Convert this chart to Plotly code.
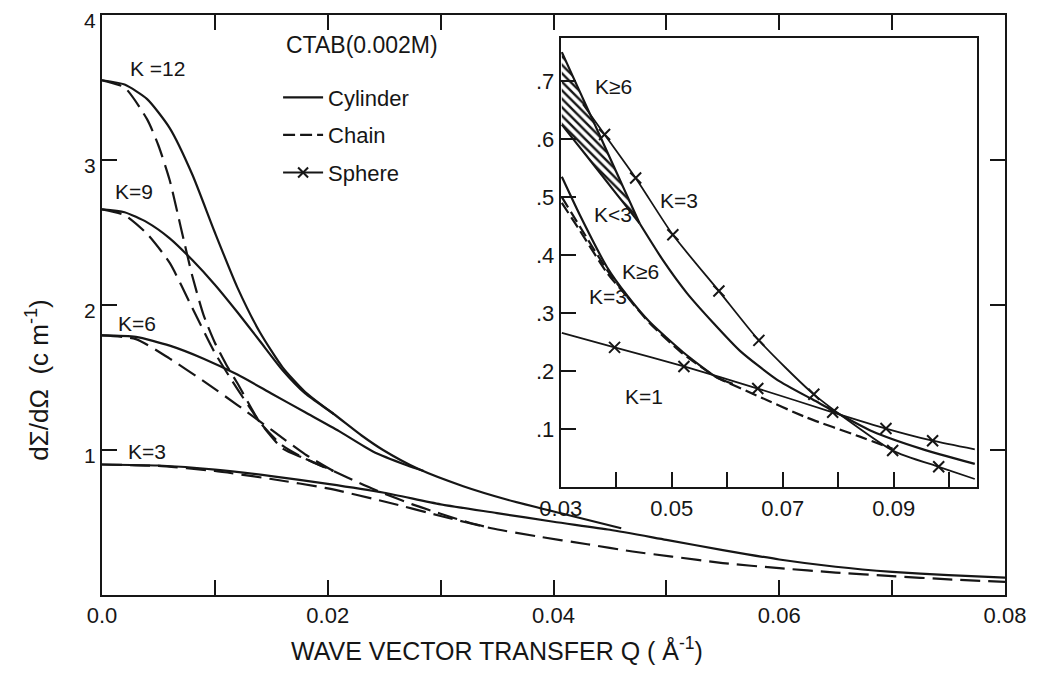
import plotly.graph_objects as go

# ---------------- main panel: dSigma/dOmega vs Q ----------------
# Cylinder model (solid lines)
cyl12_q = [0, .002, .004, .006, .008, .010, .012, .014, .016, .018, .0205]
cyl12_v = [3.55, 3.52, 3.42, 3.22, 2.90, 2.50, 2.12, 1.81, 1.57, 1.40, 1.25]
cyl9_q = [0, .002, .004, .006, .008, .010, .012, .014, .016, .018, .0205, .023, .0249, .028, .032, .036, .0411, .046]
cyl9_v = [2.66, 2.64, 2.57, 2.46, 2.31, 2.14, 1.95, 1.75, 1.55, 1.39, 1.25, 1.10, 1.00, .87, .75, .655, .555, .46]
cyl6_q = [0, .003, .006, .009, .012, .015, .018, .021, .024, .027, .0285]
cyl6_v = [1.79, 1.78, 1.72, 1.63, 1.52, 1.39, 1.26, 1.13, .99, .895, .855]
cyl3_q = [0, .005, .010, .015, .020, .025, .030, .035, .040, .045, .050, .055, .060, .065, .070, .075, .080]
cyl3_v = [.90, .893, .865, .82, .767, .705, .625, .565, .505, .45, .38, .31, .245, .195, .16, .137, .12]
# Chain model (dashed lines)
ch12_q = [0, .002, .004, .005, .006, .007, .008, .009, .010, .011, .012, .014, .016, .018, .0205]
ch12_v = [3.55, 3.50, 3.28, 3.10, 2.86, 2.53, 2.20, 1.93, 1.74, 1.59, 1.46, 1.19, 1.03, .94, .855]
ch9_q = [0, .002, .004, .006, .008, .010, .012, .014, .016, .018, .0205, .023, .025, .0275, .030, .0325, .0345]
ch9_v = [2.66, 2.62, 2.49, 2.29, 1.98, 1.67, 1.42, 1.19, 1.01, .94, .855, .765, .70, .625, .56, .50, .46]
ch6_q = [0, .003, .006, .009, .012, .015, .018, .0205]
ch6_v = [1.79, 1.765, 1.63, 1.475, 1.31, 1.14, .97, .855]
ch3_q = [0, .005, .010, .015, .020, .025, .030, .0345, .0385, .043, .047, .0505, .055, .060, .065, .070, .075, .080]
ch3_v = [.90, .89, .855, .80, .735, .645, .545, .46, .405, .35, .30, .265, .22, .185, .155, .13, .108, .09]

main_xticks = [0, .01, .02, .03, .04, .05, .06, .07, .08]
main_xtext = ["0.0", "", "0.02", "", "0.04", "", "0.06", "", "0.08"]
main_yticks = [1, 2, 3, 4]
main_ytext = ["1", "2", "3", "4"]

main_labels = ["K =12", "K=9", "K=6", "K=3"]
main_label_q = [.0023, .001, .0012, .0021]
main_label_v = [3.63, 2.78, 1.87, 0.99]

# ---------------- inset ----------------
hatch_up_q = [.0302, .033, .036, .039, .0415, .0442]
hatch_up_v = [.75, .691, .628, .565, .512, .455]
hatch_lo_q = [.0302, .033, .036, .039, .0415, .0442]
hatch_lo_v = [.625, .591, .555, .518, .488, .455]
cylK6_q = [.0442, .0485, .0527, .0575, .0623, .069, .0754, .0862, .095, .1046]
cylK6_v = [.455, .39, .335, .283, .235, .185, .151, .096, .066, .040]
sph3_q = [.034, .0379, .0435, .0502, .0585, .0657, .0756, .0898, .0981, .1046]
sph3_v = [.66, .608, .533, .435, .338, .253, .160, .063, .035, .014]
sph3_mark_q = [.0379, .0435, .0502, .0585, .0657, .0756, .0898, .0981]
sph3_mark_v = [.608, .533, .435, .338, .253, .160, .063, .035]
sph1_q = [.0302, .0397, .0522, .0655, .079, .0886, .097, .1046]
sph1_v = [.266, .241, .208, .170, .129, .101, .080, .065]
sph1_mark_q = [.0397, .0522, .0655, .079, .0886, .097]
sph1_mark_v = [.241, .208, .170, .129, .101, .080]
bund_sol_q = [.0302, .0334, .0383, .042, .046, .052, .058, .061]
bund_sol_v = [.535, .47, .38, .33, .285, .233, .19, .178]
bund_da_q = [.0302, .0334, .0383, .042, .046, .052, .058, .0653, .0743, .0839, .0898]
bund_da_v = [.50, .45, .375, .328, .283, .23, .19, .158, .12, .087, .066]
bund_db_q = [.0302, .0334, .0383, .042]
bund_db_v = [.49, .443, .37, .328]

in_xticks = [.03, .04, .05, .06, .07, .08, .09, .10]
in_xtext = ["0.03", "", "0.05", "", "0.07", "", "0.09", ""]
in_yticks = [.1, .2, .3, .4, .5, .6, .7]
in_ytext = [".1", ".2", ".3", ".4", ".5", ".6", ".7"]

in_labels = ["K≥6", "K=3", "K<3", "K≥6", "K=3", "K=1"]
in_label_q = [.0358, .0475, .0356, .0406, .0347, .0412]
in_label_v = [.69, .495, .47, .372, .328, .157]

legend_names = ["Cylinder", "Chain", "Sphere"]

FONT = "Liberation Sans, Arial, sans-serif"
INK = "#161616"
LW = 2.2
DASH = "20px,8px"

fig = go.Figure()


def line(q, v, dash="solid", xa="x", ya="y", width=LW):
    fig.add_trace(go.Scatter(
        x=q, y=v, mode="lines", xaxis=xa, yaxis=ya,
        line=dict(color=INK, width=width, dash=dash, shape="spline", smoothing=0.6),
        showlegend=False, hoverinfo="skip"))


# main curves
for q, v in [(cyl12_q, cyl12_v), (cyl9_q, cyl9_v), (cyl6_q, cyl6_v), (cyl3_q, cyl3_v)]:
    line(q, v)
for q, v in [(ch12_q, ch12_v), (ch9_q, ch9_v), (ch6_q, ch6_v), (ch3_q, ch3_v)]:
    line(q, v, dash=DASH)

# inset hatched band
fig.add_trace(go.Scatter(
    x=hatch_up_q + hatch_lo_q[::-1], y=hatch_up_v + hatch_lo_v[::-1],
    xaxis="x2", yaxis="y2", mode="lines", fill="toself",
    fillcolor="white", line=dict(width=0, color=INK),
    fillpattern=dict(shape="\\", fgcolor=INK, bgcolor="white", size=6, solidity=0.4),
    showlegend=False, hoverinfo="skip"))
line(hatch_up_q, hatch_up_v, xa="x2", ya="y2")
line(hatch_lo_q, hatch_lo_v, xa="x2", ya="y2")
line(cylK6_q, cylK6_v, xa="x2", ya="y2")
line(bund_sol_q, bund_sol_v, xa="x2", ya="y2")
line(bund_da_q, bund_da_v, dash="12px,5px", xa="x2", ya="y2")
line(bund_db_q, bund_db_v, dash="12px,5px", xa="x2", ya="y2")
line(sph3_q, sph3_v, xa="x2", ya="y2", width=1.8)
line(sph1_q, sph1_v, xa="x2", ya="y2", width=1.8)
for q, v in [(sph3_mark_q, sph3_mark_v), (sph1_mark_q, sph1_mark_v)]:
    fig.add_trace(go.Scatter(
        x=q, y=v, mode="markers", xaxis="x2", yaxis="y2",
        marker=dict(symbol="x-thin", size=11, line=dict(width=2, color=INK), color=INK),
        showlegend=False, hoverinfo="skip"))

# legend entries
styles = [dict(mode="lines", line=dict(color=INK, width=LW)),
          dict(mode="lines", line=dict(color=INK, width=LW, dash="12px,5px")),
          dict(mode="lines+markers", line=dict(color=INK, width=LW),
               marker=dict(symbol="x-thin", size=10, line=dict(width=2, color=INK)))]
for name, st in zip(legend_names, styles):
    fig.add_trace(go.Scatter(x=[None], y=[None], name=name, legendgroup=name, **st))

ann = []
for t, q, v in zip(main_labels, main_label_q, main_label_v):
    ann.append(dict(text=t, x=q, y=v, xref="x", yref="y", xanchor="left", yanchor="middle",
                    showarrow=False, font=dict(size=21, family=FONT, color=INK)))
for t, q, v in zip(in_labels, in_label_q, in_label_v):
    ann.append(dict(text=t, x=q, y=v, xref="x2", yref="y2", xanchor="left", yanchor="middle",
                    showarrow=False, font=dict(size=21, family=FONT, color=INK)))
ann.append(dict(text="CTAB(0.002M)", x=0.288, y=0.948, xref="paper", yref="paper",
                xanchor="center", yanchor="middle",
                showarrow=False, font=dict(size=23, family=FONT, color=INK)))
ann.append(dict(text="WAVE VECTOR TRANSFER Q ( Å<sup>-1</sup>)", x=0.437, y=-0.093,
                xref="paper", yref="paper", showarrow=False, xanchor="center", yanchor="middle",
                font=dict(size=25, family=FONT, color=INK)))
ann.append(dict(text="dΣ/dΩ  (c m<sup>-1</sup>)", x=-0.071, y=0.371, textangle=-90,
                xref="paper", yref="paper", showarrow=False, xanchor="center", yanchor="middle",
                font=dict(size=26, family=FONT, color=INK)))

axis_common = dict(showline=True, linecolor=INK, linewidth=2, ticks="inside", ticklen=15,
                   tickwidth=2, tickcolor=INK, showgrid=False, zeroline=False, automargin=False,
                   ticklabeloverflow="allow",
                   tickfont=dict(size=22, family=FONT, color=INK))
main_y_axis = dict(axis_common, tickfont=dict(size=21, family=FONT, color=INK), ticklabelshift=6)

# the page body adds an 8 px offset, so the figure is 8 px smaller than the window
fig.update_layout(
    template="none",
    width=1029, height=665,
    margin=dict(l=94, r=32, t=7, b=78, pad=0),
    paper_bgcolor="white", plot_bgcolor="white",
    xaxis=dict(range=[0, 0.08], tickvals=main_xticks, ticktext=main_xtext, mirror="ticks",
               domain=[0, 1], **axis_common),
    yaxis=dict(range=[0, 4], tickvals=main_yticks, ticktext=main_ytext, mirror="ticks",
               domain=[0, 1], **main_y_axis),
    xaxis2=dict(range=[0.03, 0.105], tickvals=in_xticks, ticktext=in_xtext, mirror=True,
                domain=[0.508, 0.969], anchor="y2", **axis_common),
    yaxis2=dict(range=[0, 0.774], tickvals=in_yticks, ticktext=in_ytext, mirror=True,
                domain=[0.186, 0.960], anchor="x2", **axis_common),
    showlegend=True,
    legend=dict(x=0.195, y=0.894, xanchor="left", yanchor="top", bgcolor="rgba(0,0,0,0)",
                font=dict(size=22, family=FONT, color=INK), tracegroupgap=6,
                itemwidth=40),
    annotations=ann,
)

fig.write_html("out.html")
